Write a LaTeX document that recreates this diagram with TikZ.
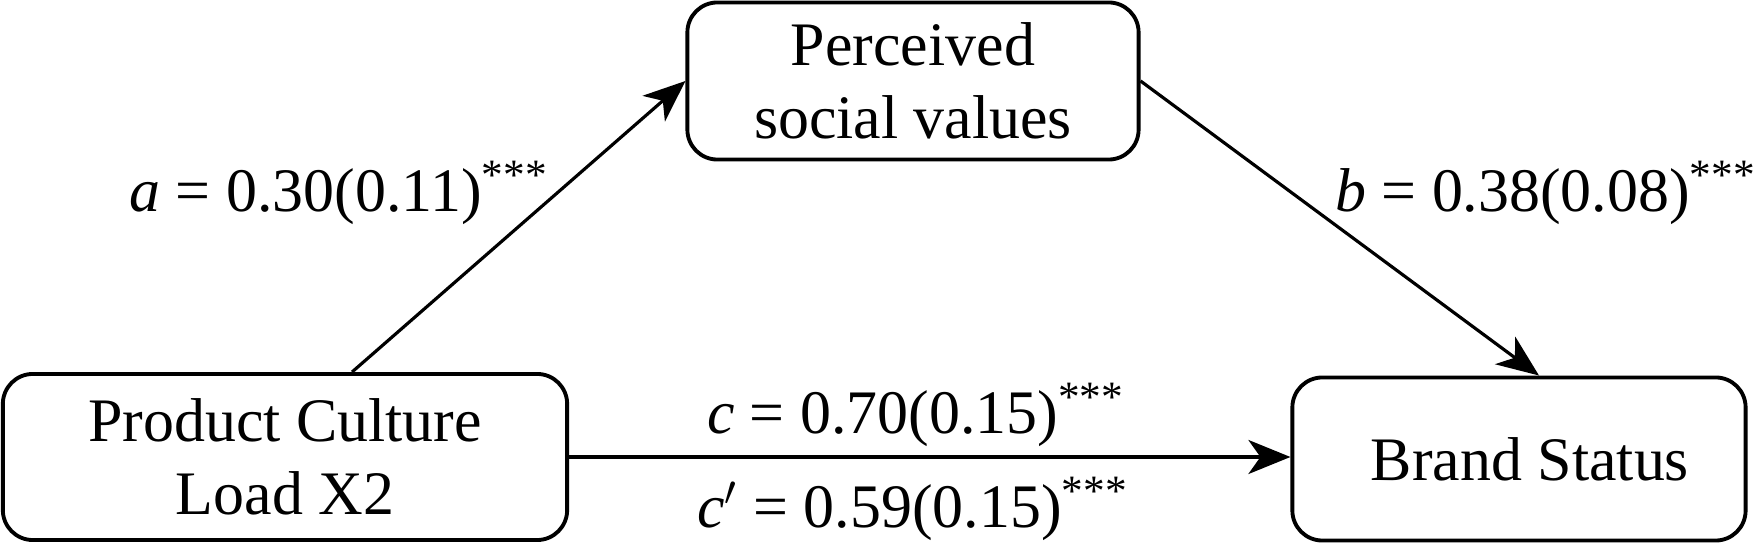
\documentclass[tikz,border=0pt]{standalone}
\usepackage{fontspec}
\setmainfont{LiberationSerif}[Extension=.ttf, UprightFont=*-Regular, ItalicFont=*-Italic, BoldFont=*-Bold, BoldItalicFont=*-BoldItalic]
\usetikzlibrary{positioning,arrows.meta}

\newcommand{\boxfont}{\fontsize{17.6}{20.6}\selectfont}

\begin{document}
\begin{tikzpicture}[
    x=0.01cm, y=-0.01cm,
    box/.style={rectangle, rounded corners=0.3cm, draw, line width=1.1pt, align=center, inner sep=0pt, font=\boxfont},
    arrow/.style={-{Stealth[length=4.2mm, width=3.4mm, inset=1.2mm]}, line width=0.9pt},
    coef/.style={font=\boxfont, inner sep=0pt, anchor=base}
]
    \useasboundingbox (0,0) rectangle (1753,543);

    % Variables
    \node[box, minimum width=5.64cm, minimum height=1.66cm] (pcl) at (285,457) {Product Culture\\Load X2};
    \node[box, minimum width=4.51cm, minimum height=1.57cm] (psv) at (913,81) {Perceived\\social values};
    \node[box, minimum width=4.53cm, minimum height=1.63cm] (bs) at (1519,459) {\hspace*{0.22cm}Brand Status};

    % Paths
    \draw[arrow] ([xshift=0.67cm]pcl.north) -- (psv.west);
    \draw[arrow] (psv.east) -- ([xshift=0.2cm]bs.north);
    \draw[arrow] (pcl.east) -- (bs.west |- pcl.east);

    % Coefficients
    \node[coef] (coefa) at (339,212) {\textit{a} = 0.30(0.11)\textsuperscript{***}};
    \node[coef] (coefb) at (1546,212) {\textit{b} = 0.38(0.08)\textsuperscript{***}};
    \node[coef] (coefc) at (916,434) {\textit{c} = 0.70(0.15)\textsuperscript{***}};
    \node[coef] (coefcp) at (913,528) {\textit{c}$'$ = 0.59(0.15)\textsuperscript{***}};
\end{tikzpicture}
\end{document}
